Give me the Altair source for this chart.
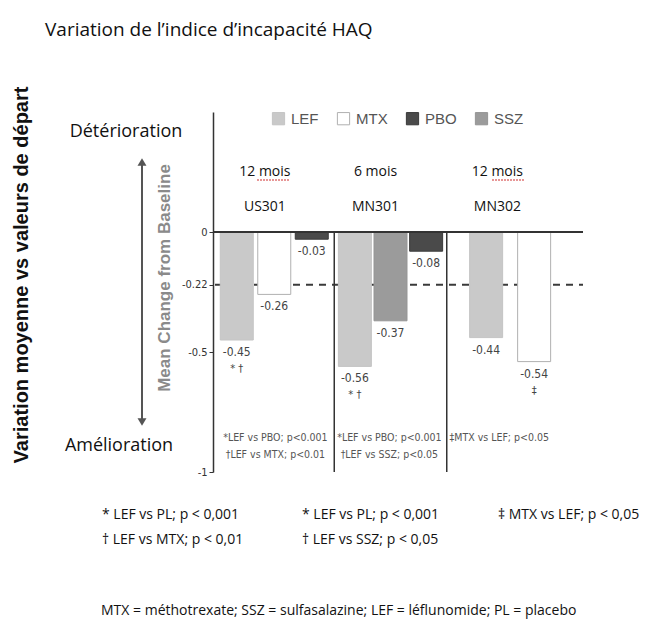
import altair as alt
import pandas as pd

# ---- data ----
studies = ["US301", "MN301", "MN302"]
durations = ["12 mois", "6 mois", "12 mois"]
bar_study = ["US301", "US301", "US301", "MN301", "MN301", "MN301", "MN302", "MN302"]
bar_treat = ["LEF", "MTX", "PBO", "LEF", "SSZ", "PBO", "LEF", "MTX"]
bar_change = [-0.45, -0.26, -0.03, -0.56, -0.37, -0.08, -0.44, -0.54]
bar_signif = ["* †", "", "", "* †", "", "", "", "‡"]
treat_order = ["LEF", "MTX", "PBO", "SSZ"]
threshold = [-0.22]
y_ticks = [0, -0.22, -0.5, -1]
inner_notes = [["*LEF vs PBO; p<0.001", "†LEF vs MTX; p<0.01"],
               ["*LEF vs PBO; p<0.001", "†LEF vs SSZ; p<0.05"],
               ["‡MTX vs LEF; p<0.05"]]
outer_notes = [["* LEF vs PL; p < 0,001", "† LEF vs MTX; p < 0,01"],
               ["* LEF vs PL; p < 0,001", "† LEF vs SSZ; p < 0,05"],
               ["‡ MTX vs LEF; p  < 0,05"]]
title_text = "Variation de l\u2019indice d\u2019incapacité HAQ"
side_text = "Variation moyenne vs valeurs de départ"
axis_text = "Mean Change from Baseline"
abbrev_text = "MTX = méthotrexate; SSZ = sulfasalazine; LEF = léflunomide; PL = placebo"

# ---- layout (slot positions on the x scale) ----
group_start = {"US301": 0.5, "MN301": 3.65, "MN302": 7.15}
group_step = {"US301": 1.0, "MN301": 0.95, "MN302": 1.28}
slots = []
counter = {}
for s in bar_study:
    i = counter.get(s, 0)
    slots.append(group_start[s] + i * group_step[s])
    counter[s] = i + 1
dividers = [3.1, 6.1]
header_x = [1.25, 4.2, 7.45]
note_x = [1.53, 4.57, 7.5]

W, H = 370, 360
xscale = alt.Scale(domain=[0, 9.6], nice=False, zero=False)
yscale = alt.Scale(domain=[-1, 0.5], nice=False, zero=False)

fills = ["#c9c9c9", "#ffffff", "#4a4a4a", "#9b9b9b"]
strokes = ["#c4c4c4", "#b0b0b0", "#3a3a3a", "#959595"]

NARROW = "DejaVu Sans Condensed, Liberation Sans Narrow, Liberation Sans, sans-serif"
SANS = "Liberation Sans"
CAL = "Open Sans"

bars_df = pd.DataFrame({
    "study": bar_study, "treat": bar_treat, "change": bar_change,
    "signif": bar_signif, "slot": slots,
    "lbl": [f"{v:.2f}" for v in bar_change],
})

legend = alt.Legend(orient="none", legendX=58, legendY=-1, direction="horizontal",
                    title=None, symbolType="square", symbolSize=150,
                    labelFont=SANS, labelFontSize=15, labelColor="#555555",
                    columnPadding=16, labelOffset=5, padding=0,
                    symbolStrokeWidth=1)

yaxis = alt.Axis(values=y_ticks, labelExpr="toString(datum.value)", title=None,
                 grid=False, domainColor="#333333", domainWidth=1.5,
                 tickColor="#333333", tickSize=4, labelFont=NARROW, labelFontSize=11,
                 labelColor="#333333", labelPadding=2)

Y = lambda f: alt.Y(f, scale=yscale, axis=yaxis)

dash = alt.Chart(pd.DataFrame({"y": threshold})).mark_rule(
    strokeDash=[7, 6], strokeWidth=2, color="#3a3a3a"
).encode(y=Y("y:Q"), x=alt.value(2), x2=alt.value(W))

bars = alt.Chart(bars_df).mark_bar(size=33, strokeWidth=1).encode(
    x=alt.X("slot:Q", scale=xscale, axis=None),
    y=Y("change:Q"),
    color=alt.Color("treat:N", scale=alt.Scale(domain=treat_order, range=fills), legend=legend),
    stroke=alt.Stroke("treat:N", scale=alt.Scale(domain=treat_order, range=strokes), legend=legend),
)

vals = alt.Chart(bars_df).mark_text(font=NARROW, fontSize=12, color="#444444",
                                    baseline="middle", dy=12).encode(
    x=alt.X("slot:Q", scale=xscale, axis=None), y=Y("change:Q"), text="lbl:N")

sig = alt.Chart(bars_df).mark_text(font=NARROW, fontSize=11, color="#444444",
                                   baseline="middle", dy=29).encode(
    x=alt.X("slot:Q", scale=xscale, axis=None), y=Y("change:Q"), text="signif:N")

zero = alt.Chart(pd.DataFrame({"y": [0]})).mark_rule(strokeWidth=2, color="#333333").encode(
    y=Y("y:Q"), x=alt.value(0), x2=alt.value(W))

div = alt.Chart(pd.DataFrame({"x": dividers, "y0": [0] * 2, "y1": [-1] * 2})).mark_rule(
    strokeWidth=1.5, color="#333333").encode(
    x=alt.X("x:Q", scale=xscale, axis=None), y=Y("y0:Q"), y2="y1:Q")

head_df = pd.DataFrame({"study": studies, "dur": durations, "x": header_x})
dur_t = alt.Chart(head_df).mark_text(font=CAL, fontSize=14, color="#111111").encode(
    x=alt.X("x:Q", scale=xscale, axis=None), y=alt.value(60), text="dur:N")
study_t = alt.Chart(head_df).mark_text(font=CAL, fontSize=14, color="#111111").encode(
    x=alt.X("x:Q", scale=xscale, axis=None), y=alt.value(95), text="study:N")

layers = [dash, bars, zero, div, vals, sig, dur_t, study_t]

def txt(text, x, y, **kw):
    return alt.Chart(pd.DataFrame({"t": [text]})).mark_text(**kw).encode(
        x=alt.value(x), y=alt.value(y), text="t:N")

# red spell-check underline under "mois"
for cx in [44, 279]:
    layers.append(alt.Chart(pd.DataFrame({"a": [0]})).mark_rule(
        color="#d03030", strokeWidth=1.2, strokeDash=[2, 1]).encode(
        x=alt.value(cx), x2=alt.value(cx + 32), y=alt.value(68)))

# inner footnotes
for col, lines in enumerate(inner_notes):
    for j, line in enumerate(lines):
        layers.append(alt.Chart(pd.DataFrame({"t": [line], "x": [note_x[col]]})).mark_text(
            font=NARROW, fontSize=10.5, color="#555555").encode(
            x=alt.X("x:Q", scale=xscale, axis=None), y=alt.value(326 + 17 * j), text="t:N"))

# outside texts
layers += [
    txt(title_text, -168, -82, font=CAL, fontSize=19, align="left", color="#111111"),
    txt(side_text, -191, 163, font=SANS, fontSize=20, fontWeight="bold",
        angle=270, color="#111111"),
    txt(axis_text, -48, 166, font=SANS, fontSize=17, fontWeight="bold",
        angle=270, color="#8a8a8a"),
    txt("Détérioration", -87, 20, font=CAL, fontSize=18, color="#111111"),
    txt("Amélioration", -94, 334, font=CAL, fontSize=18, color="#111111"),
    txt(abbrev_text, -112, 503, font=CAL, fontSize=14, align="left", baseline="alphabetic",
        color="#111111"),
]

# arrow
layers.append(alt.Chart(pd.DataFrame({"a": [0]})).mark_rule(color="#555555", strokeWidth=2).encode(
    x=alt.value(-71), y=alt.value(50), y2=alt.value(310)))
for yy, shp in [(50, "triangle-up"), (310, "triangle-down")]:
    layers.append(alt.Chart(pd.DataFrame({"a": [0]})).mark_point(
        shape=shp, filled=True, color="#555555", size=80, opacity=1).encode(
        x=alt.value(-71), y=alt.value(yy)))

# outer footnotes
outer_x = [-111, 89, 285]
for col, lines in enumerate(outer_notes):
    for j, line in enumerate(lines):
        layers.append(txt(line, outer_x[col], 403 + 25 * j, font=CAL, fontSize=14,
                          align="left", color="#111111"))

chart = alt.layer(*layers).properties(
    width=W, height=H, background="white",
    padding={"left": 205, "top": 104, "right": 64, "bottom": 150},
    autosize=alt.AutoSizeParams(type="none"),
).configure_view(stroke=None)

chart.save("out.html", embed_options={"renderer": "svg", "actions": False})
